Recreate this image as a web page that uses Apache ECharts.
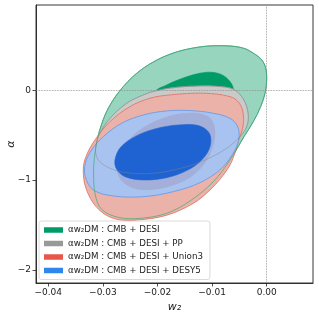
<!DOCTYPE html>
<html><head><meta charset="utf-8">
<script src="https://cdn.jsdelivr.net/npm/echarts@6/dist/echarts.min.js"></script>
<style>html,body{margin:0;padding:0;background:#fff}#c{width:319px;height:318px}</style>
</head><body><div id="c"></div>
<script>
const xTicks = [-0.04, -0.03, -0.02, -0.01, 0];
const yTicks = [-2, -1, 0];
const names = ['αw₂DM : CMB + DESI', 'αw₂DM : CMB + DESI + PP', 'αw₂DM : CMB + DESI + Union3', 'αw₂DM : CMB + DESI + DESY5'];

// contour boundaries [w2, alpha]
const greenOuter = [[-0.00733,0.494],[-0.00427,0.468],[-0.00244,0.412],[-0.00092,0.338],[-0.00018,0.245],[0,0.115],[-0.0003,-0.033],[-0.0011,-0.182],[-0.00244,-0.349],[-0.00415,-0.516],[-0.00672,-0.776],[-0.00977,-1.017],[-0.01405,-1.232],[-0.01832,-1.369],[-0.02321,-1.425],[-0.02718,-1.414],[-0.03023,-1.325],[-0.03139,-1.165],[-0.0317,-0.924],[-0.03145,-0.701],[-0.03066,-0.46],[-0.02901,-0.2],[-0.02626,0.041],[-0.0226,0.245],[-0.01771,0.401],[-0.01221,0.482]];
const greenInner = [[-0.02015,-0.004],[-0.01832,0.059],[-0.01557,0.13],[-0.01252,0.186],[-0.01008,0.2],[-0.00806,0.167],[-0.00672,0.096],[-0.00611,0.011],[-0.00672,-0.052],[-0.01221,-0.071],[-0.01771,-0.063]];
const grayOuter = [[-0.02015,-0.004],[-0.01649,0.033],[-0.01221,0.048],[-0.00855,0.041],[-0.00611,0.011],[-0.00458,-0.071],[-0.00366,-0.182],[-0.00336,-0.312],[-0.00379,-0.423],[-0.00501,-0.523],[-0.00733,-0.646],[-0.01099,-0.768],[-0.01527,-0.861],[-0.02076,-0.924],[-0.02565,-0.917],[-0.0287,-0.868],[-0.03084,-0.776],[-0.03133,-0.646],[-0.03053,-0.479],[-0.0287,-0.312],[-0.02565,-0.145],[-0.0226,-0.052]];
const redOuter = [[-0.01771,-0.052],[-0.0116,-0.033],[-0.00672,-0.071],[-0.005,-0.145],[-0.00427,-0.275],[-0.0044,-0.423],[-0.00501,-0.534],[-0.00574,-0.683],[-0.00672,-0.831],[-0.00843,-0.98],[-0.01038,-1.109],[-0.01344,-1.258],[-0.01832,-1.39],[-0.02382,-1.443],[-0.02809,-1.425],[-0.03115,-1.302],[-0.0331,-1.091],[-0.03359,-0.887],[-0.0331,-0.738],[-0.03145,-0.553],[-0.0287,-0.349],[-0.02504,-0.182],[-0.02137,-0.089]];
const blueOuter = [[-0.0226,-0.275],[-0.01832,-0.23],[-0.01405,-0.226],[-0.00977,-0.256],[-0.00672,-0.312],[-0.00537,-0.397],[-0.00507,-0.516],[-0.0058,-0.664],[-0.00824,-0.868],[-0.01221,-1.028],[-0.0171,-1.128],[-0.0226,-1.184],[-0.02809,-1.176],[-0.03176,-1.109],[-0.03322,-0.961],[-0.03322,-0.813],[-0.03206,-0.664],[-0.02992,-0.516],[-0.02656,-0.367]];
const grayInner = [[-0.02687,-0.683],[-0.02473,-0.516],[-0.02137,-0.37],[-0.0171,-0.272],[-0.01344,-0.25],[-0.01069,-0.29],[-0.00955,-0.404],[-0.00965,-0.59],[-0.0113,-0.813],[-0.01435,-0.985],[-0.01832,-1.08],[-0.02198,-1.11],[-0.02504,-1.075],[-0.02687,-0.985],[-0.02748,-0.85]];
const blueInner = [[-0.02779,-0.776],[-0.02675,-0.634],[-0.02412,-0.516],[-0.02046,-0.43],[-0.01618,-0.386],[-0.01252,-0.393],[-0.0105,-0.479],[-0.01038,-0.627],[-0.01191,-0.776],[-0.01466,-0.894],[-0.01832,-0.972],[-0.0226,-0.998],[-0.02595,-0.961],[-0.02748,-0.879]];

const FONT = 'DejaVu Sans';
function poly(name, pts, fill, stroke, lw, z, extra) {
  return Object.assign({
    type: 'custom', name: name, coordinateSystem: 'cartesian2d', silent: true, z: z,
    data: pts,
    itemStyle: { color: fill === 'none' ? stroke : fill },
    renderItem: function (params, api) {
      if (params.dataIndex !== 0) return null;
      return {
        type: 'polygon',
        shape: { points: pts.map(function (p) { return api.coord(p); }), smooth: 0.35 },
        style: { fill: fill, stroke: stroke, lineWidth: lw }
      };
    }
  }, extra || {});
}

const chart = echarts.init(document.getElementById('c'), null, { renderer: 'canvas' });
chart.setOption({
  animation: false,
  backgroundColor: '#fff',
  grid: { left: 36, right: 6, top: 5, bottom: 35, containLabel: false, outerBoundsMode: 'none',
    show: true, borderColor: '#222', borderWidth: 0.9, backgroundColor: 'transparent' },
  xAxis: {
    type: 'value', min: -0.04225, max: 0.00848,
    name: 'w₂', nameLocation: 'middle', nameGap: 16,
    nameTextStyle: { fontFamily: FONT, fontSize: 11, fontStyle: 'italic', color: '#222' },
    axisLine: { show: true, onZero: false, lineStyle: { color: '#222', width: 0.9 } },
    axisTick: { show: true, length: 3.5, customValues: xTicks, lineStyle: { color: '#222', width: 0.8 } },
    axisLabel: { customValues: xTicks, fontFamily: FONT, fontSize: 9, color: '#222', margin: 5,
      formatter: function (v) { return (v < 0 ? '\u2212' : '') + Math.abs(v).toFixed(2); } },
    splitLine: { show: false }
  },
  yAxis: {
    type: 'value', min: -2.144, max: 0.948,
    name: 'α', nameLocation: 'middle', nameGap: 19, nameRotate: 90, nameMoveOverlap: false,
    nameTextStyle: { fontFamily: FONT, fontSize: 11, fontStyle: 'italic', color: '#222' },
    axisLine: { show: true, onZero: false, lineStyle: { color: '#222', width: 0.9 } },
    axisTick: { show: true, length: 3.5, customValues: yTicks, lineStyle: { color: '#222', width: 0.8 } },
    axisLabel: { customValues: yTicks, fontFamily: FONT, fontSize: 9, color: '#222', margin: 5,
      formatter: function (v) { return (v < 0 ? '\u2212' : '') + Math.abs(v); } },
    splitLine: { show: false }
  },
  legend: {
    orient: 'vertical', left: 39, top: 221, selectedMode: false,
    itemWidth: 19, itemHeight: 5.5, itemGap: 1.5,
    padding: [3, 7, 3, 5],
    backgroundColor: 'rgba(255,255,255,0.85)', borderColor: '#d0d0d0', borderWidth: 0.8, borderRadius: 2.5,
    textStyle: { fontFamily: FONT, fontSize: 8.7, color: '#222', lineHeight: 12 },
    data: [
      { name: names[0], icon: 'rect', itemStyle: { color: '#009b66' } },
      { name: names[1], icon: 'rect', itemStyle: { color: '#999999' } },
      { name: names[2], icon: 'rect', itemStyle: { color: '#e8564a' } },
      { name: names[3], icon: 'rect', itemStyle: { color: '#2f86eb' } }
    ]
  },
  series: [
    poly(names[0], greenOuter, '#98d5bf', '#4fae88', 0.9, 1),
    poly(names[0], greenInner, '#009b66', '#009b66', 0.6, 2),
    poly(names[1], grayOuter, '#c8cbc9', '#a8a8a8', 0.8, 3),
    poly(names[2], redOuter, '#ebb2aa', '#e07868', 0.9, 4),
    poly(names[3], blueOuter, '#a8c3ef', '#6b9be6', 0.9, 5),
    poly(names[1], grayInner, '#a3afd8', 'none', 0, 6),
    poly(names[3], blueInner, '#1f63d3', '#1f63d3', 0.6, 7),
    poly('_go', greenOuter, 'none', 'rgba(60,165,115,0.75)', 0.9, 8),
    poly('_gr', grayOuter, 'none', 'rgba(130,130,130,0.55)', 0.8, 9, {
      markLine: { symbol: 'none', silent: true, label: { show: false },
        lineStyle: { type: 'dotted', color: '#8a8a8a', width: 0.8 },
        data: [{ xAxis: 0 }, { yAxis: 0 }] }
    })
  ]
});
</script></body></html>
